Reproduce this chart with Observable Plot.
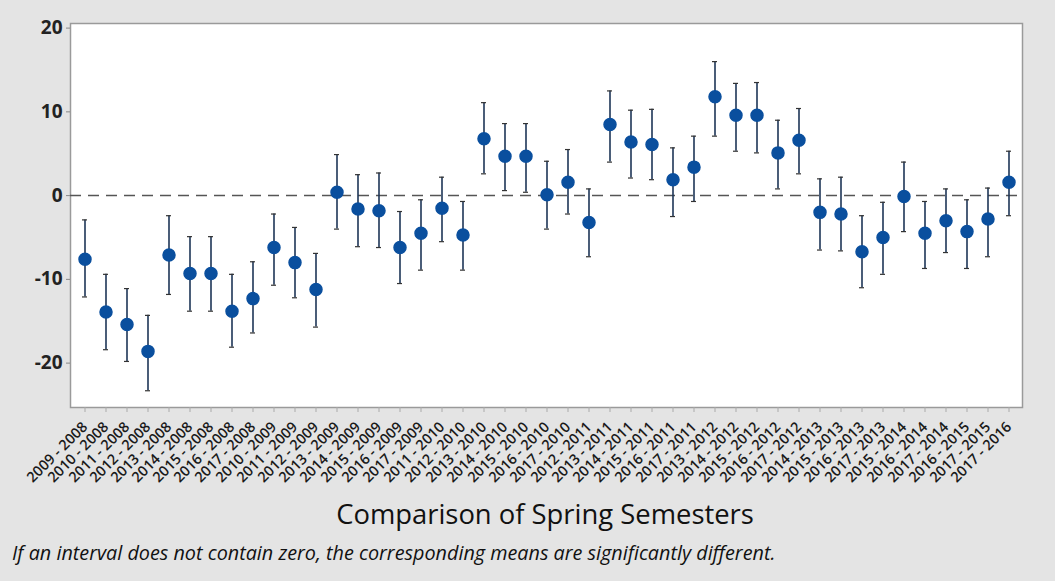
<!DOCTYPE html>
<html>
<head>
<meta charset="utf-8">
<script src="https://cdn.jsdelivr.net/npm/d3@7"></script>
<script src="https://cdn.jsdelivr.net/npm/@observablehq/plot@0.6"></script>
<style>
  html, body { margin: 0; padding: 0; background: #e4e4e4; }
  #wrap { width: 1055px; height: 581px; position: relative; background: #e4e4e4; overflow: hidden; }
  #title { position: absolute; left: 0; width: 1090px; top: 495px; text-align: center; font-family: "Open Sans", Lato, sans-serif; font-size: 27.4px; color: #111; }
  #caption { position: absolute; left: 12px; top: 539px; font-family: "Open Sans", Lato, sans-serif; font-style: italic; font-size: 19.8px; color: #111; }
</style>
</head>
<body>
<div id="wrap">
  <div id="chart"></div>
  <div id="title">Comparison of Spring Semesters</div>
  <div id="caption">If an interval does not contain zero, the corresponding means are significantly different.</div>
</div>
<script>
const pairs = [
  "2009 - 2008","2010 - 2008","2011 - 2008","2012 - 2008","2013 - 2008","2014 - 2008","2015 - 2008","2016 - 2008","2017 - 2008",
  "2010 - 2009","2011 - 2009","2012 - 2009","2013 - 2009","2014 - 2009","2015 - 2009","2016 - 2009","2017 - 2009",
  "2011 - 2010","2012 - 2010","2013 - 2010","2014 - 2010","2015 - 2010","2016 - 2010","2017 - 2010",
  "2012 - 2011","2013 - 2011","2014 - 2011","2015 - 2011","2016 - 2011","2017 - 2011",
  "2013 - 2012","2014 - 2012","2015 - 2012","2016 - 2012","2017 - 2012",
  "2014 - 2013","2015 - 2013","2016 - 2013","2017 - 2013",
  "2015 - 2014","2016 - 2014","2017 - 2014",
  "2016 - 2015","2017 - 2015",
  "2017 - 2016"
];
const diffs = [
  -7.6,-13.9,-15.4,-18.6,-7.1,-9.3,-9.3,-13.8,-12.3,
  -6.2,-8.0,-11.2,0.4,-1.6,-1.8,-6.2,-4.5,
  -1.5,-4.7,6.8,4.7,4.7,0.1,1.6,
  -3.2,8.5,6.4,6.1,1.9,3.4,
  11.8,9.6,9.6,5.1,6.6,
  -2.0,-2.2,-6.7,-5.0,
  -0.1,-4.5,-3.0,
  -4.3,-2.8,
  1.6
];
const upper = [
  -2.9,-9.4,-11.1,-14.3,-2.4,-4.9,-4.9,-9.4,-7.9,
  -2.2,-3.8,-6.9,4.9,2.5,2.7,-1.9,-0.5,
  2.2,-0.7,11.1,8.6,8.6,4.1,5.5,
  0.8,12.5,10.2,10.3,5.7,7.1,
  16.0,13.4,13.5,9.0,10.4,
  2.0,2.2,-2.4,-0.8,
  4.0,-0.7,0.8,
  -0.5,0.9,
  5.3
];
const lower = [
  -12.1,-18.4,-19.8,-23.3,-11.8,-13.8,-13.8,-18.1,-16.4,
  -10.7,-12.2,-15.7,-4.0,-6.1,-6.2,-10.5,-8.9,
  -5.5,-8.9,2.6,0.6,0.4,-4.0,-2.2,
  -7.3,4.0,2.1,1.9,-2.5,-0.7,
  7.1,5.3,5.1,0.8,2.6,
  -6.5,-6.6,-11.0,-9.4,
  -4.3,-8.7,-6.8,
  -8.7,-7.3,
  -2.4
];
const yTicks = [-20, -10, 0, 10, 20];

const data = pairs.map((p, i) => ({pair: p, diff: diffs[i], lo: lower[i], hi: upper[i]}));

const chart = Plot.plot({
  width: 1055,
  height: 505,
  marginLeft: 70,
  marginRight: 33,
  marginTop: 23,
  marginBottom: 98,
  style: {background: "transparent", fontFamily: "'Open Sans', Lato, sans-serif", color: "#222"},
  x: {type: "band", domain: pairs, padding: 0, align: 0.5, label: null},
  y: {domain: [-25.3, 20.55], label: null},
  marks: [
    Plot.frame({fill: "white", stroke: "#9a9a9a", strokeWidth: 1.5}),
    Plot.ruleY([0], {stroke: "#555", strokeWidth: 1.5, strokeDasharray: "11,7"}),
    Plot.ruleX(data, {x: "pair", y1: "lo", y2: "hi", stroke: "#1d3557", strokeWidth: 1.6}),
    Plot.tickY(data, {x: "pair", y: "hi", stroke: "#333", strokeWidth: 1.2, insetLeft: 8, insetRight: 8}),
    Plot.tickY(data, {x: "pair", y: "lo", stroke: "#333", strokeWidth: 1.2, insetLeft: 8, insetRight: 8}),
    Plot.dot(data, {x: "pair", y: "diff", r: 6, fill: "#0a4f9e", stroke: "#0a4f9e"}),
    Plot.axisY({ticks: yTicks, tickFormat: d => String(d), tickSize: 4, tickPadding: 4, fontSize: 19, fontWeight: "bold", stroke: "#888", fill: "#222"}),
    Plot.axisX({tickSize: 5, tickPadding: 12, tickRotate: -45, fontSize: 14.5, fontWeight: 600, stroke: "#aaa", fill: "#1a1a1a"})
  ]
});
document.getElementById("chart").appendChild(chart);
</script>
</body>
</html>
